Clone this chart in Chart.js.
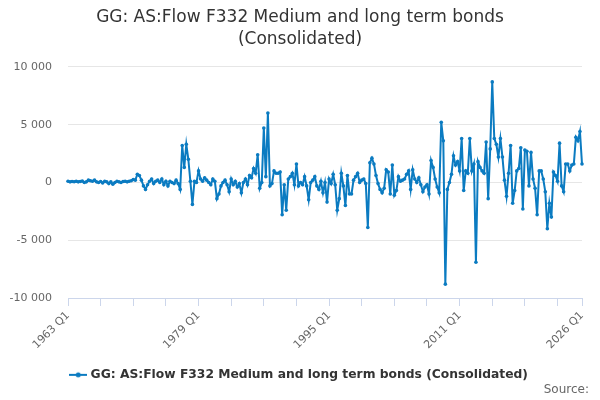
<!DOCTYPE html>
<html>
<head>
<meta charset="utf-8">
<script src="https://cdn.jsdelivr.net/npm/chart.js@4/dist/chart.umd.min.js"></script>
<style>
  html, body { margin: 0; padding: 0; background: #fff; }
  #wrap { width: 600px; height: 400px; position: relative; }
</style>
</head>
<body>
<div id="wrap"><canvas id="chart"></canvas></div>
<script>
// Zeitraum: 1963 Q1 bis 2026 Q1 (Quartale)
const firstYear = 1963;
const lastYear = 2026;

const seriesName = 'GG: AS:Flow F332 Medium and long term bonds (Consolidated)';
const sourceText = 'Source:';

// Werte aus dem Bild geschaetzt, ein Wert pro Quartal
const flowValues = [
  100, 50, 80, 60, 100, 50, 80, 120, 0, 50,
  200, 150, 100, 200, 50, 0, 80, -50, 100, 50,
  -100, 50, -150, 0, 100, 50, 0, 80, 100, 50,
  100, 150, 250, 200, 700, 600, 200, -300, -600, -200,
  100, 300, -100, 100, 200, 0, 300, -200, 100, -300,
  100, 0, -100, 200, -100, -600, 3200, 1300, 3300, 2000,
  100, -1900, 100, 0, 1000, 300, 100, 400, 200, 0,
  -200, 300, 100, -1400, -1000, -300, 0, 200, -200, -800,
  300, -200, 100, -400, -100, -900, 0, 300, -200, 600,
  400, 1200, 800, 2400, -500, 0, 4700, 500, 6000, -300,
  -100, 1000, 800, 800, 900, -2800, -200, -2400, 300, 500,
  800, -200, 1600, -300, 0, -200, 500, -300, -1500, 0,
  200, 500, -300, -600, 100, -900, 0, -1700, 300, -100,
  700, -200, -2400, -1400, 800, -300, -2000, 600, -1000, -1000,
  200, 500, 800, 0, 200, 300, -100, -3900, 1700, 2100,
  1600, 600, -100, -600, -900, -500, 1100, 900, -1000, 1500,
  -1100, -700, 500, 100, 200, 300, 700, 1000, -600, 1100,
  300, 0, 400, -200, -800, -400, -200, -1000, 1900, 1300,
  300, -400, -900, 5200, 3600, -8800, -600, 0, 700, 2300,
  1500, 1800, 1000, 3800, -700, 1000, 800, 3800, 1000, 1600,
  -6900, 1800, 1300, 1000, 800, 3500, -1400, 2900, 8700, 3800,
  3300, 2200, 3800, 2200, 200, -1200, 800, 3200, -1800, -700,
  1000, 1200, 3000, -2300, 2800, 2700, -300, 2600, 300, -500,
  -2800, 1000, 1000, 300, -800, -4000, -1800, -3000, 900, 600,
  100, 3400, -300, -800, 1600, 1600, 1000, 1500, 1600, 3900,
  3600, 4400, 1600
];

const yTicks = [-10000, -5000, 0, 5000, 10000];

// Quartals-Labels bauen
const quarterLabels = [];
for (let y = firstYear; y <= lastYear; y++) {
    for (let q = 1; q <= 4; q++) {
        if (y === lastYear && q > 1) break;
        quarterLabels.push(y + ' Q' + q);
    }
}
const lastIdx = quarterLabels.length - 1;

// Tausender mit Leerzeichen
function fmt(v) {
    return String(v).replace(/\B(?=(\d{3})+(?!\d))/g, ' ');
}

// Legenden-Symbol: Linie mit Punkt
function legendSymbol() {
    const c = document.createElement('canvas');
    c.width = 18;
    c.height = 8;
    const g = c.getContext('2d');
    g.strokeStyle = '#0b7bc1';
    g.lineWidth = 2;
    g.beginPath();
    g.moveTo(0, 4);
    g.lineTo(18, 4);
    g.stroke();
    g.fillStyle = '#0b7bc1';
    g.beginPath();
    g.arc(9, 4, 2.5, 0, Math.PI * 2);
    g.fill();
    return c;
}

// "Source:" unten rechts
const sourcePlugin = {
    id: 'sourceText',
    afterDraw(chart) {
        const c = chart.ctx;
        c.save();
        c.font = '12px "DejaVu Sans"';
        c.fillStyle = '#666666';
        c.textAlign = 'right';
        c.textBaseline = 'middle';
        c.fillText(sourceText, chart.width - 11, 390);
        c.restore();
    }
};

document.addEventListener('DOMContentLoaded', () => {
    const ctx = document.getElementById('chart');
    new Chart(ctx, {
        type: 'line',
        data: {
            labels: quarterLabels,
            datasets: [{
                label: seriesName,
                data: flowValues,
                borderColor: '#0b7bc1',
                backgroundColor: '#0b7bc1',
                borderWidth: 2,
                pointRadius: 1.8,
                pointBorderWidth: 0,
                pointStyle: 'circle',
                tension: 0
            }]
        },
        plugins: [sourcePlugin],
        options: {
            responsive: true,
            maintainAspectRatio: false,
            animation: false,
            layout: { padding: { left: 0, right: 0, top: 4, bottom: 9 } },
            plugins: {
                title: {
                    display: true,
                    text: ['GG: AS:Flow F332 Medium and long term bonds', '(Consolidated)'],
                    color: '#333333',
                    font: { family: 'DejaVu Sans', size: 17, weight: 'normal', lineHeight: 1.29 },
                    padding: { top: 3, bottom: 16 }
                },
                legend: {
                    position: 'bottom',
                    labels: {
                        usePointStyle: true,
                        pointStyle: legendSymbol(),
                        color: '#333333',
                        font: { family: 'DejaVu Sans', size: 12.3, weight: 'bold' },
                        padding: 14
                    }
                },
                tooltip: { enabled: false }
            },
            scales: {
                x: {
                    grid: {
                        drawOnChartArea: false,
                        color: '#ccd6eb',
                        tickLength: 8
                    },
                    border: { color: '#ccd6eb' },
                    afterBuildTicks: axis => {
                        axis.ticks = axis.ticks.filter(t => t.value % 16 === 0 || t.value === lastIdx);
                    },
                    ticks: {
                        autoSkip: false,
                        maxRotation: 45,
                        minRotation: 45,
                        color: '#666666',
                        font: { family: 'DejaVu Sans', size: 11 },
                        callback: function (value) {
                            if (value % 64 === 0 || value === lastIdx) return quarterLabels[value];
                            return '';
                        }
                    }
                },
                y: {
                    min: -10000,
                    max: 10000,
                    afterBuildTicks: axis => {
                        axis.ticks = yTicks.map(v => ({ value: v }));
                    },
                    afterFit: axis => { axis.width = 68; },
                    grid: { color: '#e6e6e6', drawTicks: false },
                    border: { display: false },
                    ticks: {
                        color: '#666666',
                        padding: 16,
                        font: { family: 'DejaVu Sans', size: 11 },
                        callback: v => fmt(v)
                    }
                },
                // leere Achse rechts, nur als Rand
                yRight: {
                    position: 'right',
                    min: 0,
                    max: 1,
                    afterFit: axis => { axis.width = 18; },
                    grid: { display: false },
                    border: { display: false },
                    ticks: { display: false }
                }
            }
        }
    });
});
</script>
</body>
</html>
